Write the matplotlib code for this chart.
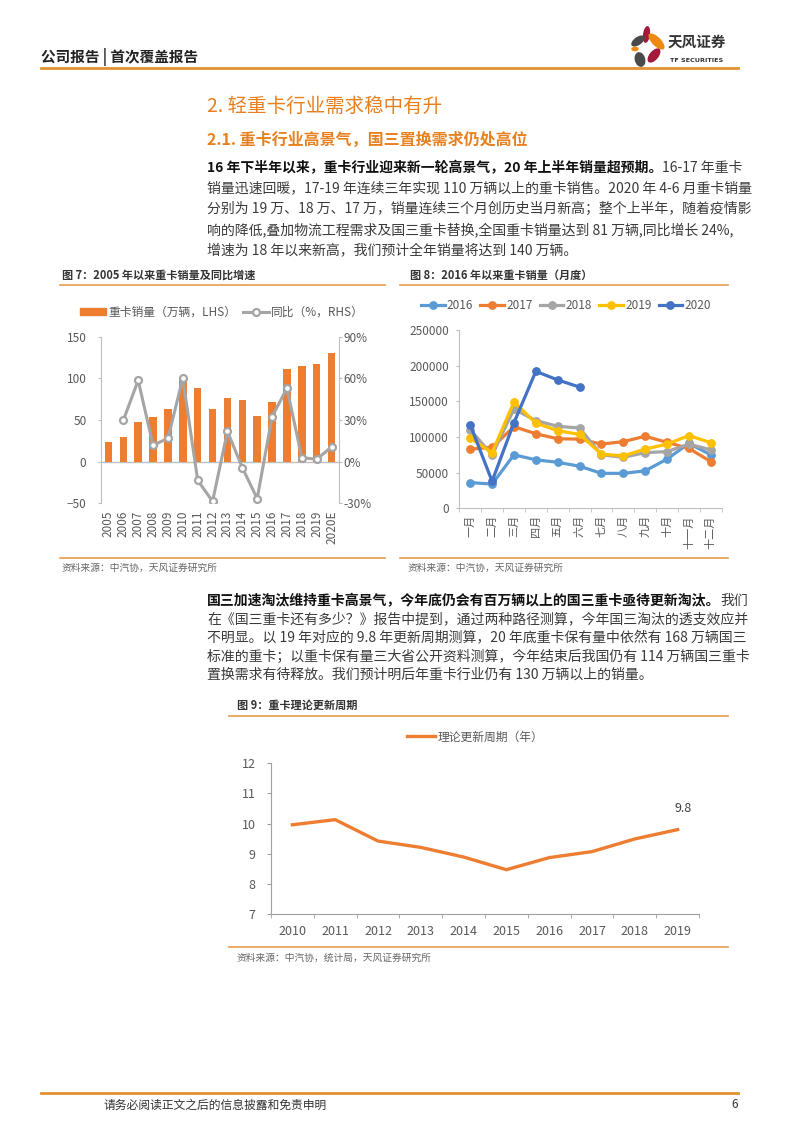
import matplotlib
matplotlib.use("Agg")
import matplotlib.pyplot as plt
from matplotlib.patches import Ellipse, Patch
from matplotlib.lines import Line2D
import numpy as np

plt.rcParams['font.family'] = ['Noto Sans CJK SC', 'DejaVu Sans']

W, H = 800, 1131

# ------------------------------------------------------------------
# data
# ------------------------------------------------------------------
years7 = ['2005', '2006', '2007', '2008', '2009', '2010', '2011', '2012',
          '2013', '2014', '2015', '2016', '2017', '2018', '2019', '2020E']
sales7 = [23, 30, 48, 54, 63, 100, 88, 63, 77, 74, 55, 72, 111, 115, 117, 130]
yoy7 = [np.nan, 29.8, 58.6, 11.8, 16.8, 60.0, -13.4, -28.6, 21.8, -4.3,
        -26.6, 32.4, 52.8, 2.9, 1.7, 10.6]

months8 = ['一月', '二月', '三月', '四月', '五月', '六月', '七月', '八月',
           '九月', '十月', '十一月', '十二月']
m2016 = [36000, 34000, 75000, 68000, 64500, 59000, 49000, 49000, 52500, 69000, 91000, 75000]
m2017 = [83000, 85500, 114500, 104500, 97500, 97000, 90000, 93500, 101000, 92500, 84000, 65500]
m2018 = [110000, 75000, 139000, 123000, 115000, 112500, 75000, 71500, 78000, 79500, 90000, 82000]
m2019 = [98500, 78000, 149000, 119500, 109000, 103500, 76000, 73500, 83000, 90000, 102000, 92000]
m2020 = [117000, 38000, 120000, 192000, 180000, 170000]
series8 = [('2016', m2016, '#5B9BD5'), ('2017', m2017, '#ED7D31'),
           ('2018', m2018, '#A5A5A5'), ('2019', m2019, '#FFC000'),
           ('2020', m2020, '#4472C4')]

years9 = ['2010', '2011', '2012', '2013', '2014', '2015', '2016', '2017', '2018', '2019']
cycle9 = [9.96, 10.13, 9.42, 9.21, 8.89, 8.47, 8.87, 9.07, 9.49, 9.8]

para1 = [
    [("16 年下半年以来，重卡行业迎来新一轮高景气，20 年上半年销量超预期。", True), ("16-17 年重卡", False)],
    [("销量迅速回暖，17-19 年连续三年实现 110 万辆以上的重卡销售。2020 年 4-6 月重卡销量", False)],
    [("分别为 19 万、18 万、17 万，销量连续三个月创历史当月新高；整个上半年，随着疫情影", False)],
    [("响的降低,叠加物流工程需求及国三重卡替换,全国重卡销量达到 81 万辆,同比增长 24%,", False)],
    [("增速为 18 年以来新高，我们预计全年销量将达到 140 万辆。", False)],
]
para2 = [
    [("国三加速淘汰维持重卡高景气，今年底仍会有百万辆以上的国三重卡亟待更新淘汰。", True), ("我们", False)],
    [("在《国三重卡还有多少？》报告中提到，通过两种路径测算，今年国三淘汰的透支效应并", False)],
    [("不明显。以 19 年对应的 9.8 年更新周期测算，20 年底重卡保有量中依然有 168 万辆国三", False)],
    [("标准的重卡；以重卡保有量三大省公开资料测算，今年结束后我国仍有 114 万辆国三重卡", False)],
    [("置换需求有待释放。我们预计明后年重卡行业仍有 130 万辆以上的销量。", False)],
]

ORANGE = '#ED7D31'
RULE = '#E89B4C'
HEAD = '#E8801E'
AXIS = '#BFBFBF'
TICK = '#595959'


def fx(x):
    return x / W


def fy(y):
    return 1 - y / H


def box(l, t, r, b):
    return [l / W, 1 - b / H, (r - l) / W, (b - t) / H]


fig = plt.figure(figsize=(W / 100, H / 100), dpi=100)
renderer = fig.canvas.get_renderer()


def hline(y, x0, x1, color=RULE, lw=1.2):
    fig.add_artist(Line2D([fx(x0), fx(x1)], [fy(y), fy(y)], color=color, lw=lw,
                          transform=fig.transFigure))


def rich_line(x, y, parts, size=10):
    # segments of one line, bold and plain, placed one after another
    for s, bold in parts:
        t = fig.text(fx(x), fy(y), s, fontsize=size, va='center',
                     fontweight='bold' if bold else 'normal',
                     color='#111111' if bold else '#3A3A3A')
        x = t.get_window_extent(renderer=renderer).x1


# ------------------------------------------------------------------
# page header / footer
# ------------------------------------------------------------------
fig.text(fx(41), fy(57), '公司报告 | 首次覆盖报告', fontsize=10.5, fontweight='bold',
         color='#222222', va='center')
hline(67.5, 41, 738, color='#E0922F', lw=2)

logo = fig.add_axes(box(620, 20, 668, 70))
logo.set_xlim(620, 668)
logo.set_ylim(70, 20)
logo.axis('off')
petals = [((646.5, 34.5), 7, 17, 8, '#A3193C'),
          ((656.5, 41.5), 9, 21, -45, '#EE8A11'),
          ((638, 41), 8, 15.5, 55, '#4A4A4A'),
          ((635, 49), 7.5, 4.5, 0, '#EE8A11'),
          ((654, 55.5), 9, 17, 40, '#A3193C'),
          ((640, 59.5), 10.5, 15, -15, '#4A4A4A')]
for c, w_, h_, ang, col in petals:
    logo.add_patch(Ellipse(c, w_, h_, angle=ang, color=col, lw=0))
fig.text(fx(668), fy(42), '天风证券', fontsize=10.5, fontweight='bold', color='#333333', va='center')
fig.text(fx(670), fy(60), 'TF SECURITIES', fontsize=4.6, fontweight='bold', color='#333333',
         va='center', family='DejaVu Sans')

hline(1093, 41, 738, color='#E0922F', lw=2)
fig.text(fx(103), fy(1105), '请务必阅读正文之后的信息披露和免责申明', fontsize=8.5,
         color='#333333', va='center')
fig.text(fx(738), fy(1105), '6', fontsize=8.5, color='#333333', va='center', ha='right')

# ------------------------------------------------------------------
# headings and paragraphs
# ------------------------------------------------------------------
fig.text(fx(207), fy(106), '2. 轻重卡行业需求稳中有升', fontsize=14, color=HEAD, va='center')
fig.text(fx(207), fy(140), '2.1. 重卡行业高景气，国三置换需求仍处高位', fontsize=11.5,
         color=HEAD, va='center', fontweight='bold')

for i, parts in enumerate(para1):
    rich_line(207, 168 + i * 20.5, parts)
for i, parts in enumerate(para2):
    rich_line(207, 601 + i * 18.5, parts)

# ------------------------------------------------------------------
# Chart 7: sales and yoy
# ------------------------------------------------------------------
fig.text(fx(62), fy(275), '图 7：2005 年以来重卡销量及同比增速', fontsize=8,
         fontweight='bold', color='#333333', va='center')
hline(285, 60, 385)
hline(558, 60, 385)
fig.text(fx(62), fy(568), '资料来源：中汽协，天风证券研究所', fontsize=7, color='#666666', va='center')

ax7 = fig.add_axes(box(101, 336.7, 339, 503.3))
x7 = np.arange(len(years7))
ax7.bar(x7, sales7, width=0.5, color=ORANGE, zorder=2)
ax7.axhline(0, color=AXIS, lw=1, zorder=1)
ax7.set_xlim(-0.5, len(years7) - 0.5)
ax7.set_ylim(-50, 150)
ax7.set_yticks([-50, 0, 50, 100, 150])
ax7.set_xticks(x7)
ax7.set_xticklabels(years7, rotation=90, fontsize=8.5, color=TICK)
ax7.tick_params(axis='x', length=0, pad=5)
ax7.tick_params(axis='y', length=2.5, color=AXIS, labelsize=8.5, labelcolor=TICK, pad=8)
for s in ['top', 'bottom', 'right']:
    ax7.spines[s].set_visible(False)
ax7.spines['left'].set_color(AXIS)

ax7r = ax7.twinx()
ax7r.plot(x7, yoy7, color='#A5A5A5', lw=2.2, marker='o', ms=5, mfc='white',
          mec='#A5A5A5', mew=1.6, zorder=3)
ax7r.set_ylim(-30, 90)
ax7r.set_yticks([-30, 0, 30, 60, 90])
ax7r.set_yticklabels([f'{v}%' for v in [-30, 0, 30, 60, 90]])
ax7r.tick_params(axis='y', length=2.5, color=AXIS, labelsize=8.5, labelcolor=TICK, pad=1)
for s in ['top', 'bottom', 'left']:
    ax7r.spines[s].set_visible(False)
ax7r.spines['right'].set_color(AXIS)

h7 = [Patch(color=ORANGE),
      Line2D([], [], color='#A5A5A5', lw=2.2, marker='o', ms=5, mfc='white',
             mec='#A5A5A5', mew=1.6)]
fig.legend(h7, ['重卡销量（万辆，LHS）', '同比（%，RHS）'], ncol=2, loc='center',
           bbox_to_anchor=(fx(222), fy(312)), frameon=False, fontsize=8.5,
           handlelength=2.2, handleheight=0.5, handletextpad=0.2, columnspacing=0.6,
           labelcolor=TICK)

# ------------------------------------------------------------------
# Chart 8: monthly sales
# ------------------------------------------------------------------
fig.text(fx(410), fy(275), '图 8：2016 年以来重卡销量（月度）', fontsize=8,
         fontweight='bold', color='#333333', va='center')
hline(285, 400, 728)
hline(558, 400, 728)
fig.text(fx(408), fy(568), '资料来源：中汽协，天风证券研究所', fontsize=7, color='#666666', va='center')

ax8 = fig.add_axes(box(459.3, 330, 721.7, 508.3))
for name, vals, col in series8:
    ax8.plot(np.arange(len(vals)), vals, color=col, lw=2.3, marker='o', ms=5.3,
             mfc=col, mec=col, label=name)
ax8.set_xlim(-0.5, 11.5)
ax8.set_ylim(0, 250000)
ax8.set_yticks(np.arange(0, 250001, 50000))
ax8.set_xticks(np.arange(12))
ax8.set_xticklabels(months8, rotation=90, fontsize=8, color=TICK, va='top')
ax8.set_xticks(np.arange(-0.5, 12, 1), minor=True)
ax8.tick_params(axis='x', which='major', length=0, pad=5)
ax8.tick_params(axis='x', which='minor', length=3, color=AXIS)
ax8.tick_params(axis='y', length=2.5, color=AXIS, labelsize=8.5, labelcolor=TICK, pad=5)
for s in ['top', 'right']:
    ax8.spines[s].set_visible(False)
ax8.spines['left'].set_color(AXIS)
ax8.spines['bottom'].set_color(AXIS)
fig.legend(*ax8.get_legend_handles_labels(), ncol=5, loc='center',
           bbox_to_anchor=(fx(566), fy(305.5)), frameon=False, fontsize=8.5,
           handlelength=2.0, handletextpad=0.2, columnspacing=0.6, labelcolor=TICK)

# ------------------------------------------------------------------
# Chart 9: theoretical renewal cycle
# ------------------------------------------------------------------
fig.text(fx(237), fy(705), '图 9：重卡理论更新周期', fontsize=8,
         fontweight='bold', color='#333333', va='center')
hline(716, 229, 728)
hline(947, 229, 728)
fig.text(fx(237), fy(958), '资料来源：中汽协，统计局，天风证券研究所', fontsize=7,
         color='#666666', va='center')

ax9 = fig.add_axes(box(271, 763.3, 699, 914))
x9 = np.arange(len(years9))
ax9.plot(x9, cycle9, color=ORANGE, lw=2.4, label='理论更新周期（年）')
ax9.annotate(f'{cycle9[-1]:.1f}', (x9[-1], cycle9[-1]), xytext=(4, 15),
             textcoords='offset points', ha='center', va='center', fontsize=9, color='#404040')
ax9.set_xlim(-0.5, 9.5)
ax9.set_ylim(7, 12)
ax9.set_yticks(np.arange(7, 13))
ax9.set_xticks(x9)
ax9.set_xticklabels(years9, fontsize=9, color=TICK)
ax9.set_xticks(np.arange(-0.5, 10, 1), minor=True)
ax9.tick_params(axis='x', which='major', length=0, pad=8)
ax9.tick_params(axis='x', which='minor', length=3, color='#A0A0A0')
ax9.tick_params(axis='y', length=3, color='#A0A0A0', labelsize=9, labelcolor=TICK, pad=8)
for s in ['top', 'right']:
    ax9.spines[s].set_visible(False)
ax9.spines['left'].set_color('#A0A0A0')
ax9.spines['bottom'].set_color('#A0A0A0')
fig.legend(*ax9.get_legend_handles_labels(), loc='center',
           bbox_to_anchor=(fx(475), fy(737)), frameon=False, fontsize=8.5,
           handlelength=2.4, handletextpad=0.2, labelcolor=TICK)

fig.savefig('out.png', dpi=100)
